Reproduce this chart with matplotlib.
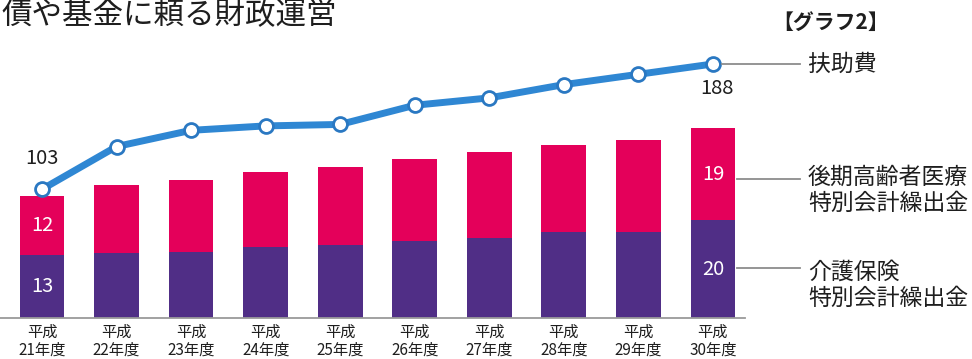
import matplotlib.pyplot as plt
from matplotlib.lines import Line2D

plt.rcParams['font.family'] = ['Noto Sans CJK JP', 'DejaVu Sans']

# values (億円); middle bars
years = ['平成\n21年度', '平成\n22年度', '平成\n23年度', '平成\n24年度', '平成\n25年度',
         '平成\n26年度', '平成\n27年度', '平成\n28年度', '平成\n29年度', '平成\n30年度']
kaigo = [13, 13.3, 13.5, 14.5, 15.0, 15.8, 16.4, 17.6, 17.6, 20]   # 介護保険特別会計繰出金
kouki = [12, 13.9, 14.8, 15.4, 16.0, 16.8, 17.6, 17.8, 18.9, 19]   # 後期高齢者医療特別会計繰出金
fujo = [103, 132, 143, 146, 147, 160, 165, 174, 181, 188]          # 扶助費
bar_label_idx = [0, 9]

PURPLE = '#502e86'
MAGENTA = '#e4005a'
BLUE = '#2f87d3'
TXT = '#1e1e1e'
GREY = '#8c8c8c'

W, H = 972, 359
fig = plt.figure(figsize=(W / 100, H / 100), dpi=100)


def fx(px):
    return px / W


def fy(py):
    return 1 - py / H


ax = fig.add_axes([0, fy(318), 745 / W, 318 / H])
x = list(range(len(years)))
ax.bar(x, kaigo, width=0.6, color=PURPLE, zorder=2)
ax.bar(x, kouki, bottom=kaigo, width=0.6, color=MAGENTA, zorder=2)
ax.set_xlim(-0.563, 9.43)
ax.set_ylim(0, 318 / 4.88)

for s in ['top', 'left', 'right']:
    ax.spines[s].set_visible(False)
ax.spines['bottom'].set_color('#9a9a9a')
ax.spines['bottom'].set_linewidth(1.3)
ax.set_yticks([])
ax.set_xticks(x, years)
ax.tick_params(axis='x', length=0, pad=4, labelsize=11, labelcolor=TXT)
for t in ax.get_xticklabels():
    t.set_linespacing(1.05)

for i in bar_label_idx:
    ax.text(i, kaigo[i] / 2, f'{kaigo[i]:g}', ha='center', va='center',
            color='white', fontsize=14.5, zorder=3)
    ax.text(i, kaigo[i] + kouki[i] / 2, f'{kouki[i]:g}', ha='center', va='center',
            color='white', fontsize=14.5, zorder=3)

ax2 = ax.twinx()
ax2.set_ylim(15.7, 231.4)
ax2.axis('off')
ax2.plot(x, fujo, color=BLUE, lw=5, marker='o', ms=10, mfc='white', mec='#2a78c2',
         mew=2, solid_joinstyle='round', zorder=3)
ax2.annotate(f'{fujo[0]}', (0, fujo[0]), xytext=(0, 31), textcoords='offset pixels',
             ha='center', va='center', fontsize=14.5, color=TXT)
ax2.annotate(f'{fujo[-1]}', (9, fujo[-1]), xytext=(4, -25), textcoords='offset pixels',
             ha='center', va='center', fontsize=14.5, color=TXT)

# connector lines to the side labels
for x0, y0 in [(722, 64), (737, 179), (737, 268)]:
    fig.add_artist(Line2D([fx(x0), fx(800)], [fy(y0), fy(y0)], color=GREY, lw=1.3,
                          transform=fig.transFigure))

fig.text(fx(808), fy(64), '扶助費', fontsize=16.5, va='center', ha='left', color=TXT)
fig.text(fx(808), fy(177), '後期高齢者医療', fontsize=16.5, va='center', ha='left', color=TXT)
fig.text(fx(808), fy(203), '特別会計繰出金', fontsize=16.5, va='center', ha='left', color=TXT)
fig.text(fx(808), fy(272), '介護保険', fontsize=16.5, va='center', ha='left', color=TXT)
fig.text(fx(808), fy(298), '特別会計繰出金', fontsize=16.5, va='center', ha='left', color=TXT)

fig.text(fx(831), fy(22), '【グラフ2】', fontsize=15, fontweight='bold', va='center',
         ha='center', color=TXT)
fig.text(fx(1), fy(16), '債や基金に頼る財政運営', fontsize=22, va='center', ha='left', color=TXT)

fig.savefig('out.png', dpi=100)
